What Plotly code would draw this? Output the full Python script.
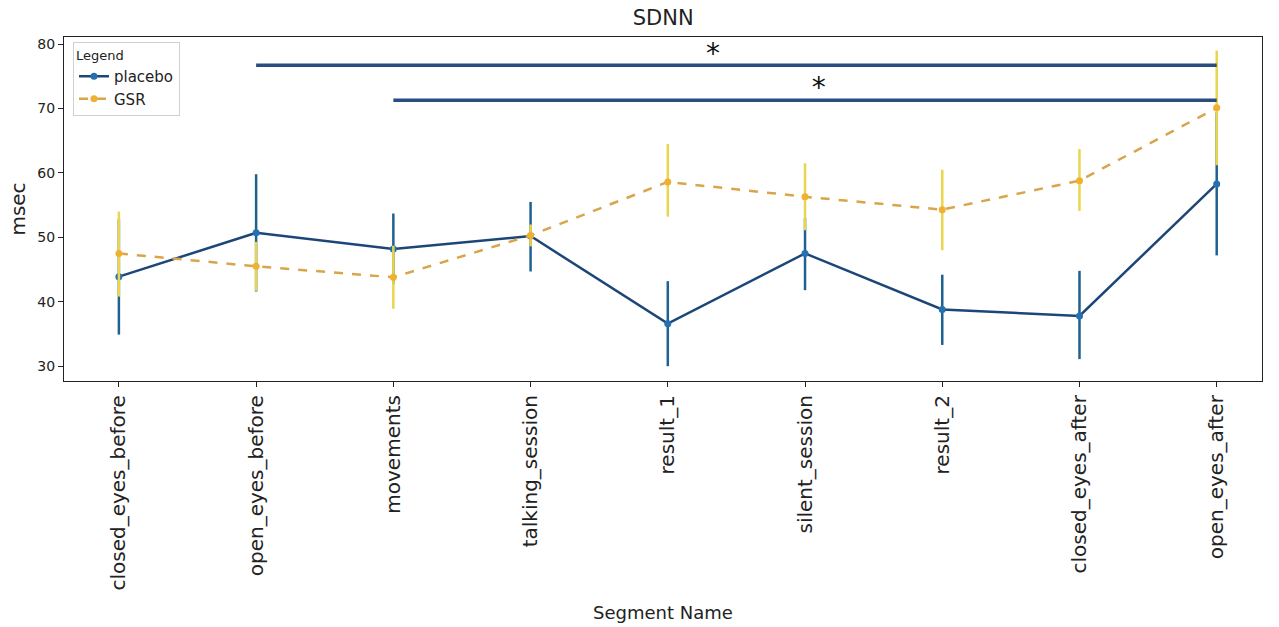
import plotly.graph_objects as go

# SDNN per recording segment, mean with 95% CI bounds
segments = ["closed_eyes_before", "open_eyes_before", "movements", "talking_session",
            "result_1", "silent_session", "result_2", "closed_eyes_after", "open_eyes_after"]

placebo_mean = [43.9, 50.7, 48.2, 50.2, 36.6, 47.5, 38.8, 37.8, 58.3]
placebo_low = [34.9, 41.6, 42.7, 44.7, 30.0, 41.8, 33.3, 31.1, 47.2]
placebo_high = [52.8, 59.8, 53.7, 55.5, 43.2, 53.0, 44.2, 44.8, 69.4]

gsr_mean = [47.5, 45.5, 43.8, 50.3, 58.6, 56.3, 54.3, 58.8, 70.1]
gsr_low = [40.8, 41.7, 38.9, 48.6, 53.2, 51.1, 48.0, 54.1, 61.2]
gsr_high = [54.0, 49.3, 48.7, 52.0, 64.5, 61.5, 60.5, 63.7, 79.0]

# significance brackets: (start index, end index, level, star position)
sig_start = [1, 2]
sig_end = [8, 8]
sig_level = [76.7, 71.3]
sig_star_x = [4.33, 5.1]
sig_star_y = [78.2, 72.8]

FONT = "DejaVu Sans"
idx = list(range(len(segments)))


def err(mean, low, high):
    up = [h - m for m, h in zip(mean, high)]
    down = [m - l for m, l in zip(mean, low)]
    return up, down


fig = go.Figure()

p_up, p_down = err(placebo_mean, placebo_low, placebo_high)
fig.add_trace(go.Scatter(
    x=idx, y=placebo_mean, name="placebo", mode="lines+markers",
    line=dict(color="#1d4678", width=2.5),
    marker=dict(color="#2470b0", size=7),
    error_y=dict(type="data", symmetric=False, array=p_up, arrayminus=p_down,
                 color="#1f6190", thickness=2.5, width=0),
))

g_up, g_down = err(gsr_mean, gsr_low, gsr_high)
fig.add_trace(go.Scatter(
    x=idx, y=gsr_mean, name="GSR", mode="lines+markers",
    line=dict(color="#d9a54a", width=2.5, dash="dash"),
    marker=dict(color="#f0b030", size=7),
    error_y=dict(type="data", symmetric=False, array=g_up, arrayminus=g_down,
                 color="#e9d64e", thickness=2.5, width=0),
))

for s, e, lvl in zip(sig_start, sig_end, sig_level):
    fig.add_trace(go.Scatter(
        x=[s, e], y=[lvl, lvl], mode="lines", showlegend=False, hoverinfo="skip",
        line=dict(color="#2a4d80", width=3.5),
    ))

fig.add_trace(go.Scatter(
    x=sig_star_x, y=sig_star_y, mode="text", text=["*"] * len(sig_star_x),
    textfont=dict(family=FONT, size=28, color="#111111"),
    showlegend=False, hoverinfo="skip",
))

fig.update_layout(
    width=1279, height=627,
    margin=dict(l=64, r=17, t=37, b=246),
    paper_bgcolor="white", plot_bgcolor="white",
    font=dict(family=FONT, color="#222222"),
    title=dict(text="SDNN", x=0.5185, xanchor="center", y=0.972, yanchor="middle",
               font=dict(family=FONT, size=21, color="#222222")),
    showlegend=True,
    legend=dict(
        title=dict(text="Legend", font=dict(family=FONT, size=13)),
        x=0.0075, y=0.985, xanchor="left", yanchor="top",
        bgcolor="white", bordercolor="#d0d0d0", borderwidth=1,
        font=dict(family=FONT, size=15), tracegroupgap=2,
    ),
)

fig.update_xaxes(
    range=[-0.4, 8.33], automargin=False,
    tickmode="array", tickvals=idx, ticktext=segments, tickangle=-90,
    tickfont=dict(family=FONT, size=20, color="#222222"),
    ticks="outside", ticklen=5, tickcolor="#222222",
    showgrid=False, zeroline=False,
    showline=True, linecolor="#222222", linewidth=1.2, mirror=True,
    title=dict(text="Segment Name", font=dict(family=FONT, size=18, color="#222222"), standoff=16),
)

fig.update_yaxes(
    range=[27.7, 81.1], automargin=False,
    tickvals=[30, 40, 50, 60, 70, 80],
    tickfont=dict(family=FONT, size=14, color="#222222"),
    ticks="outside", ticklen=5, tickcolor="#222222",
    showgrid=False, zeroline=False,
    showline=True, linecolor="#222222", linewidth=1.2, mirror=True,
    title=dict(text="msec", font=dict(family=FONT, size=20, color="#222222"), standoff=6),
)

fig.write_html("out.html")
